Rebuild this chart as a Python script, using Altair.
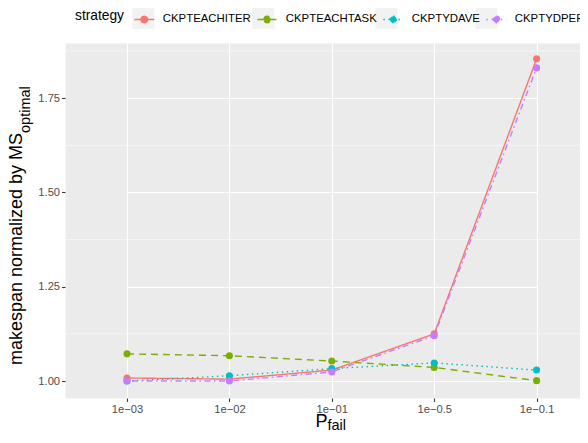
import altair as alt
import pandas as pd

FONT = "Liberation Sans"

strategies = ["CKPTEACHITER", "CKPTEACHTASK", "CKPTYDAVE", "CKPTYDPER"]
pfail_labels = ["1e\u221203", "1e\u221202", "1e\u221201", "1e\u22120.5", "1e\u22120.1"]
ckpt_each_iter = [1.008, 1.005, 1.029, 1.125, 1.854]
ckpt_each_task = [1.072, 1.067, 1.053, 1.036, 1.001]
ckpt_yd_ave = [1.000, 1.014, 1.033, 1.048, 1.029]
ckpt_yd_per = [1.000, 1.000, 1.024, 1.120, 1.830]
series = [ckpt_each_iter, ckpt_each_task, ckpt_yd_ave, ckpt_yd_per]

colors = ["#F8766D", "#7CAE00", "#00BFC4", "#C77CFF"]
dashes = [[1, 0], [7, 5], [1.5, 3.5], [1.5, 3.5, 6, 3.5]]
major_breaks = [1.0, 1.25, 1.5, 1.75]
minor_breaks = [1.125, 1.375, 1.625, 1.875]

rows = []
for s, vals in zip(strategies, series):
    for p, v in zip(pfail_labels, vals):
        rows.append({"strategy": s, "strategy2": s, "pfail": p, "value": v})
df = pd.DataFrame(rows)

x_enc = alt.X("pfail:N", sort=pfail_labels,
              scale=alt.Scale(type="point", range=[62, 471.6], padding=0),
              axis=alt.Axis(title=None, labelAngle=0))
y_axis = alt.Axis(title=None, values=major_breaks, format=".2f")
y_scale = alt.Scale(domain=[0.955, 1.896], nice=False, zero=False)
y_enc = alt.Y("value:Q", scale=y_scale, axis=y_axis)

sym_path = "M-0.9,0L0.9,0M-0.3,0A0.3,0.3,0,1,1,0.3,0A0.3,0.3,0,1,1,-0.3,0Z"
common = dict(orient="none", legendX=10, legendY=-36, direction="horizontal",
              titleOrient="left", title="strategy", columns=4, padding=0,
              labelFontSize=11.4, labelFont=FONT, labelColor="#000000",
              titleFontSize=13.75, titleFont=FONT, titleFontWeight="normal", titleColor="#000000",
              labelOffset=6.5, columnPadding=3, titlePadding=8.3, symbolSize=484)
leg = alt.Legend(symbolType=sym_path, symbolStrokeWidth=1.4, zindex=2, **common)
gray_leg = alt.Legend(symbolType="square", symbolStrokeWidth=0, symbolOpacity=1,
                      labelOpacity=0, titleOpacity=0, zindex=1, **common)

color_scale = alt.Scale(domain=strategies, range=colors)
dash_scale = alt.Scale(domain=strategies, range=dashes)

minor = alt.Chart(pd.DataFrame({"value": minor_breaks})).mark_rule(
    color="white", strokeWidth=0.55).encode(y=y_enc)

dummy = alt.Chart(df).mark_square(opacity=0).encode(
    x=x_enc, y=y_enc,
    fill=alt.Fill("strategy2:N", scale=alt.Scale(range=["#F2F2F2"] * 4), legend=gray_leg))

lines = alt.Chart(df).mark_line(strokeWidth=1.4).encode(
    x=x_enc, y=y_enc,
    color=alt.Color("strategy:N", scale=color_scale, legend=leg),
    strokeDash=alt.StrokeDash("strategy:N", scale=dash_scale, legend=leg))

points = alt.Chart(df).mark_point(filled=True, size=50, opacity=1).encode(
    x=x_enc, y=y_enc,
    color=alt.Color("strategy:N", scale=color_scale, legend=leg))

def label(text, x, y, size, angle=0):
    return alt.Chart(pd.DataFrame({"t": [text]})).mark_text(
        align="left", baseline="alphabetic", fontSize=size, font=FONT,
        color="#000000", angle=angle).encode(text="t:N", x=alt.value(x), y=alt.value(y))

ytitle = label("makespan normalized by MS", -43, 322, 18, angle=270)
ysub = label("optimal", -35, 90, 14.5, angle=270)
xtitle = label("P", 250.5, 383.5, 18)
xsub = label("fail", 262.5, 387, 14.5)

chart = alt.layer(minor, dummy, lines, points, ytitle, ysub, xtitle, xsub).properties(
    width=515, height=355,
    autosize=alt.AutoSizeParams(type="none"),
    padding={"left": 57, "top": 35, "right": 0, "bottom": 33},
    background="white",
).configure_view(
    fill="#EBEBEB", stroke="transparent"
).configure_axis(
    grid=True, gridColor="white", gridWidth=1.1, domain=False,
    tickColor="#333333", tickSize=3.4, tickWidth=1.1,
    labelColor="#4D4D4D", labelFontSize=11.2, labelFont=FONT, labelPadding=2,
)

chart.save("out.html", embed_options={"renderer": "svg", "actions": False})
